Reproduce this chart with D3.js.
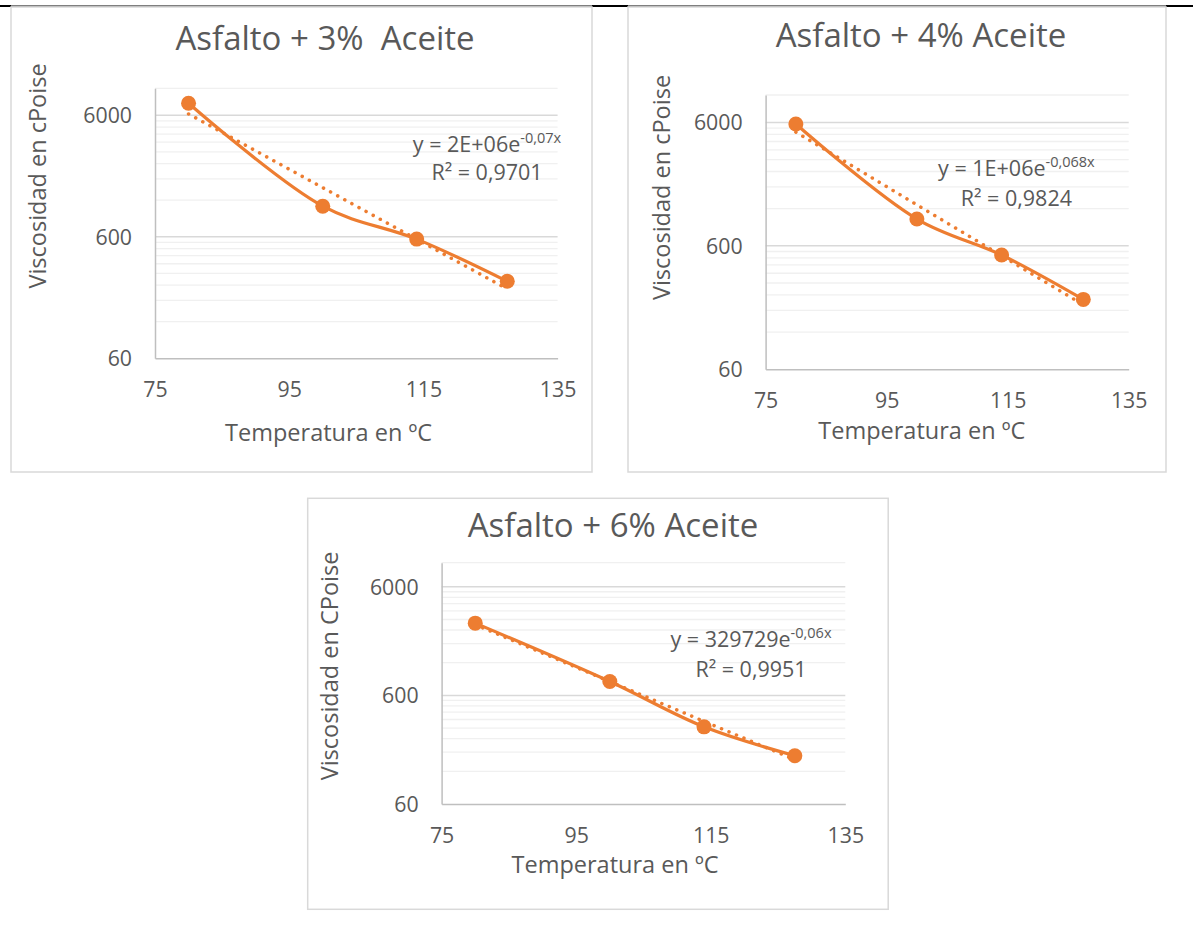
<!DOCTYPE html>
<html>
<head>
<meta charset="utf-8">
<script src="https://d3js.org/d3.v7.min.js"></script>
<style>
  body { margin: 0; background: #fff; }
  text { font-family: "Open Sans", sans-serif; fill: #595959; white-space: pre; }
</style>
</head>
<body>
<div id="charts"></div>
<script>
// data
var temperatures = [80, 100, 114, 127.5];
var visc3 = [7530, 1071, 574, 258];
var visc4 = [5816, 989, 506, 221];
var visc6 = [2776, 805, 308, 167];

var xTicks = [75, 95, 115, 135];
var yTicks = [60, 600, 6000];
var yMax = 10000;

var titles = ["Asfalto + 3%  Aceite", "Asfalto + 4% Aceite", "Asfalto + 6% Aceite"];
var yTitles = ["Viscosidad en cPoise", "Viscosidad en cPoise", "Viscosidad en CPoise"];
var xTitle = "Temperatura en ºC";
var eqMain = ["y = 2E+06e", "y = 1E+06e", "y = 329729e"];
var eqExp = ["-0,07x", "-0,068x", "-0,06x"];
var r2Labels = ["R² = 0,9701", "R² = 0,9824", "R² = 0,9951"];

var orange = "#ED7D31";

// page layout for each chart
var layouts = [
  { box: [11, 7, 581, 465], plot: [155, 557.6, 88.3, 358.3], title: [325, 50], yLab: [38, 176], xLab: [328.6, 441], xTickY: 397, eq: [487, 152, 180] },
  { box: [628, 7, 538, 465], plot: [765.6, 1128.7, 95, 369.3], title: [921, 46.7], yLab: [662, 187.5], xLab: [921.8, 439], xTickY: 408, eq: [1016.4, 175.7, 205.7] },
  { box: [307.7, 498.3, 580.5, 411], plot: [441.6, 845.3, 562.7, 804], title: [613, 537.3], yLab: [330, 666], xLab: [615, 873.3], xTickY: 842.7, eq: [751, 646.7, 677.3] }
];
var series = [visc3, visc4, visc6];

var svg = d3
  .select("#charts")
  .append("svg")
  .attr("width", 1193)
  .attr("height", 928);

// black rule at the top of the page
svg.append("line").attr("x1", 0).attr("x2", 1193).attr("y1", 6).attr("y2", 6)
  .attr("stroke", "#000").attr("stroke-width", 1.2);
[[0, 11], [592, 628], [1166, 1193]].forEach(function (s) {
  svg.append("rect").attr("x", s[0]).attr("y", 5).attr("width", s[1] - s[0]).attr("height", 2).attr("fill", "#000");
});

// minor gridline values on the log axis
var minorTicks = [];
yTicks.forEach(function (d) {
  for (var k = 2; k <= 9; k++) {
    if (k * d < yMax) minorTicks.push(k * d);
  }
});
minorTicks.push(yMax);

// exponential least squares fit, like excel's trendline
function expFit(xs, ys) {
  var n = xs.length;
  var ly = ys.map(function (v) { return Math.log(v); });
  var mx = d3.mean(xs), my = d3.mean(ly);
  var sxy = 0, sxx = 0;
  for (var i = 0; i < n; i++) {
    sxy += (xs[i] - mx) * (ly[i] - my);
    sxx += (xs[i] - mx) * (xs[i] - mx);
  }
  var b = sxy / sxx;
  var a = Math.exp(my - b * mx);
  return function (x) { return a * Math.exp(b * x); };
}

layouts.forEach(function (L, ci) {
  var g = svg.append("g");
  var values = series[ci];
  var data = temperatures.map(function (t, i) { return { x: t, y: values[i] }; });

  g.append("rect")
    .attr("x", L.box[0]).attr("y", L.box[1])
    .attr("width", L.box[2]).attr("height", L.box[3])
    .attr("fill", "#fff")
    .attr("stroke", "#d9d9d9")
    .attr("stroke-width", 1.5);

  var x = d3.scaleLinear().domain([75, 135]).range([L.plot[0], L.plot[1]]);
  var y = d3.scaleLog().domain([60, yMax]).range([L.plot[3], L.plot[2]]);

  // gridlines
  g.append("g").selectAll("line")
    .data(minorTicks)
    .enter()
    .append("line")
    .attr("x1", L.plot[0]).attr("x2", L.plot[1])
    .attr("y1", function (d) { return y(d); })
    .attr("y2", function (d) { return y(d); })
    .attr("stroke", "#f0f0f0")
    .attr("stroke-width", 1.3);

  g.append("g").selectAll("line")
    .data(yTicks.slice(1))
    .enter()
    .append("line")
    .attr("x1", L.plot[0]).attr("x2", L.plot[1])
    .attr("y1", function (d) { return y(d); })
    .attr("y2", function (d) { return y(d); })
    .attr("stroke", "#d9d9d9")
    .attr("stroke-width", 1.5);

  // axes
  var yAxis = g.append("g")
    .attr("transform", "translate(" + L.plot[0] + ",0)")
    .call(d3.axisLeft(y).tickValues(yTicks).tickFormat(d3.format("d")).tickSize(0).tickPadding(23));
  var xAxis = g.append("g")
    .attr("transform", "translate(0," + L.plot[3] + ")")
    .call(d3.axisBottom(x).tickValues(xTicks).tickSize(0).tickPadding(0));
  [yAxis, xAxis].forEach(function (a) {
    a.select(".domain").attr("stroke", "#bfbfbf").attr("stroke-width", 1.5);
    a.selectAll("text").attr("font-size", 21.3).attr("fill", "#595959")
      .style("font-family", "'Open Sans', sans-serif");
  });
  yAxis.selectAll("text").attr("dy", "0.35em");
  xAxis.selectAll("text").attr("dy", null).attr("y", L.xTickY - L.plot[3]);

  // trendline
  var fit = expFit(temperatures, values);
  var x0 = d3.min(temperatures), x1 = d3.max(temperatures);
  g.append("line")
    .attr("x1", x(x0)).attr("y1", y(fit(x0)))
    .attr("x2", x(x1)).attr("y2", y(fit(x1)))
    .attr("stroke", orange)
    .attr("stroke-width", 3.5)
    .attr("stroke-linecap", "round")
    .attr("stroke-dasharray", "0.1,8");

  // smoothed series line
  var line = d3.line()
    .x(function (d) { return x(d.x); })
    .y(function (d) { return y(d.y); })
    .curve(d3.curveCatmullRom.alpha(0.5));
  g.append("path")
    .datum(data)
    .attr("d", line)
    .attr("fill", "none")
    .attr("stroke", orange)
    .attr("stroke-width", 3.2);

  g.append("g").selectAll("circle")
    .data(data)
    .enter()
    .append("circle")
    .attr("cx", function (d) { return x(d.x); })
    .attr("cy", function (d) { return y(d.y); })
    .attr("r", 7.5)
    .attr("fill", orange);

  // titles
  g.append("text")
    .attr("x", L.title[0]).attr("y", L.title[1])
    .attr("text-anchor", "middle")
    .attr("font-size", 33)
    .text(titles[ci]);

  g.append("text")
    .attr("transform", "translate(" + L.yLab[0] + "," + L.yLab[1] + ") rotate(-90)")
    .attr("text-anchor", "middle")
    .attr("dy", "0.35em")
    .attr("font-size", 23.5)
    .text(yTitles[ci]);

  g.append("text")
    .attr("x", L.xLab[0]).attr("y", L.xLab[1])
    .attr("text-anchor", "middle")
    .attr("font-size", 23.5)
    .text(xTitle);

  // trendline equation
  var eq = g.append("text")
    .attr("x", L.eq[0]).attr("y", L.eq[1])
    .attr("text-anchor", "middle")
    .attr("font-size", 21.5);
  eq.append("tspan").text(eqMain[ci]);
  eq.append("tspan").attr("dy", -9).attr("font-size", 14.5).text(eqExp[ci]);

  g.append("text")
    .attr("x", L.eq[0]).attr("y", L.eq[2])
    .attr("text-anchor", "middle")
    .attr("font-size", 21.5)
    .text(r2Labels[ci]);
});
</script>
</body>
</html>
